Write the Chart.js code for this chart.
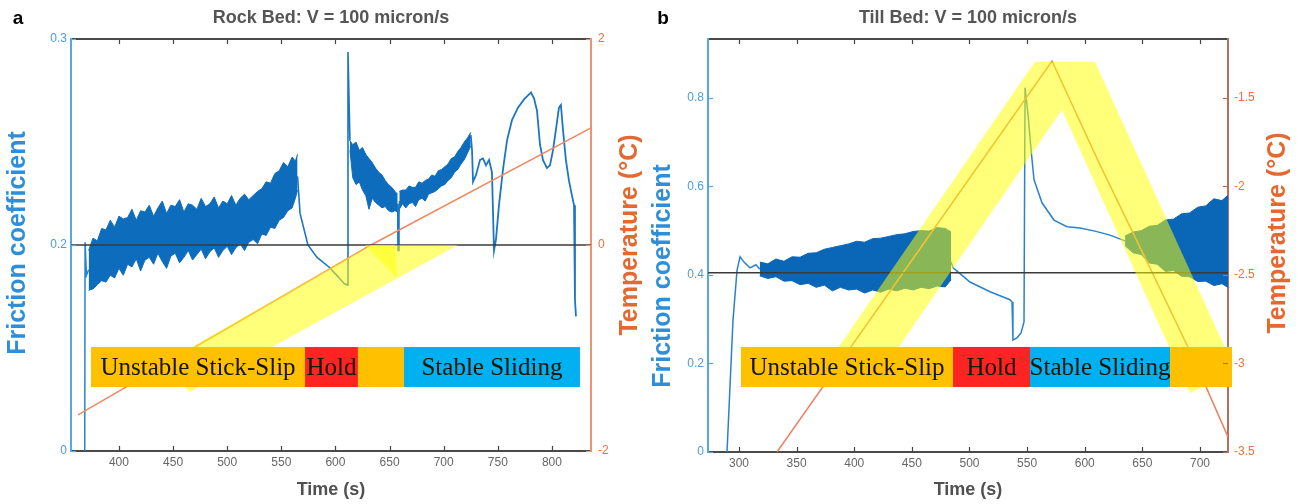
<!DOCTYPE html>
<html><head><meta charset="utf-8">
<script src="https://cdn.jsdelivr.net/npm/chart.js@4.4.1/dist/chart.umd.min.js"></script>
<style>
html,body{margin:0;padding:0;background:#fff;overflow:hidden}
#wrap{position:relative;width:1301px;height:504px;background:#fff}
#ca{position:absolute;left:0;top:0}
#cb{position:absolute;left:650px;top:0}
</style></head><body>
<div id="wrap"><canvas id="ca" width="650" height="504"></canvas><canvas id="cb" width="651" height="504"></canvas></div>
<script>
// ---------------- Panel a : Rock bed ----------------
const rockTitle = 'Rock Bed: V = 100 micron/s';
const rockTimeRange = [355.7, 836.1];
const rockFrictionRange = [0, 0.3];
const rockTempRange = [-2, 2];
const rockXTicks = [400, 450, 500, 550, 600, 650, 700, 750, 800];
const rockFrictionTickLabels = ['0', '0.2', '0.3'];
const rockTempTicks = [-2, 0, 2];

const rockTempTime = [362.2, 632.8, 836.1];
const rockTemp = [-1.65, 0, 1.136];
const rockFreezeTime = [355.7, 836.1];
const rockFreeze = [0, 0];

const rockLine1Time = [368.4, 368.7, 370, 372];
const rockLine1F = [0, 0.152, 0.128, 0.132];

const rockBand1Time = [372,376,380,384,388,392,396,400,404,408,412,416,420,424,428,432,436,440,444,448,452,456,460,464,468,472,476,480,484,488,492,496,500,504,508,512,516,520,524,528,532,536,540,544,548,552,556,560,563,565];
const rockBand1Upper = [0.146,0.155,0.153,0.162,0.161,0.168,0.163,0.171,0.169,0.170,
  0.176,0.168,0.175,0.174,0.179,0.171,0.177,0.182,0.173,0.179,
  0.178,0.183,0.174,0.180,0.179,0.176,0.184,0.178,0.180,0.185,
  0.177,0.182,0.180,0.186,0.179,0.184,0.187,0.183,0.186,0.189,
  0.191,0.196,0.195,0.202,0.204,0.210,0.207,0.214,0.211,0.216];
const rockBand1Lower = [0.117,0.118,0.121,0.124,0.123,0.128,0.126,0.133,0.128,0.136,
  0.134,0.140,0.131,0.139,0.141,0.136,0.144,0.138,0.133,0.142,
  0.144,0.137,0.141,0.146,0.139,0.143,0.147,0.140,0.145,0.148,
  0.141,0.146,0.149,0.143,0.148,0.151,0.146,0.152,0.154,0.151,
  0.158,0.157,0.163,0.162,0.168,0.170,0.175,0.177,0.184,0.190];

const rockLine2Time = [565, 567.3, 574.6, 583, 594, 602.4, 607.9, 610.7, 611.6, 613.4];
const rockLine2F = [0.200, 0.173, 0.150, 0.141, 0.134, 0.127, 0.122, 0.121, 0.2905, 0.226];

const rockBand2Time = [613.4,616,619,622,625,628,631,634,637,640,643,646,649,652,655,657.5];
const rockBand2Upper = [0.226,0.223,0.225,0.219,0.221,0.216,0.213,0.210,0.206,0.203,0.201,0.197,0.194,0.192,0.189,0.187];
const rockBand2Lower = [0.219,0.199,0.194,0.196,0.190,0.186,0.176,0.184,0.181,0.179,0.177,0.178,0.175,0.174,0.175,0.174];

const rockLine3Time = [657.5, 657.8, 658.7, 659.2];
const rockLine3F = [0.180, 0.146, 0.172, 0.182];

const rockBand3Time = [659,662,665,668,671,674,677,680,683,686,689,692,695,698,701,704,707,710,713,716,719,722,725];
const rockBand3Upper = [0.189,0.190,0.190,0.193,0.192,0.192,0.196,0.195,0.197,0.198,0.201,0.200,0.204,0.205,0.207,0.209,0.213,0.214,0.218,0.221,0.225,0.228,0.232];
const rockBand3Lower = [0.176,0.180,0.177,0.180,0.181,0.178,0.183,0.184,0.182,0.187,0.188,0.189,0.191,0.193,0.194,0.197,0.199,0.203,0.205,0.209,0.212,0.217,0.222];

const rockLine4Time = [725,726.2,727.1,729.9,733.6,736.3,739.1,741.9,744.6,746.5,748.3,751.1,754.8,758.5,763.1,768.6,774.2,777.9,780.6,783.4,786.2,789,791.7,795.4,798.2,801,803.7,806.5,808.3,810.2,812.9,815.7,818.5,820.4,821.3,822.2];
const rockLine4F = [0.230,0.219,0.196,0.201,0.212,0.213,0.208,0.212,0.203,0.146,0.154,0.179,0.205,0.226,0.241,0.250,0.256,0.259,0.261,0.257,0.248,0.223,0.212,0.206,0.208,0.219,0.234,0.250,0.252,0.234,0.212,0.197,0.186,0.179,0.110,0.098];

// highlight shapes (time, temperature)
const rockHighlightBand = [[437.9,-1.165],[632.8,0],[713.2,0],[465.6,-1.427]];
const rockHighlightHead = [[627.3,0],[655,0],[656.9,-0.32]];
// phase boxes (time edges, friction limits)
const rockPhaseEdges = [374.2, 571.9, 620.8, 663.3, 825.9];
const rockPhaseLabels = ['Unstable Stick-Slip', 'Hold', '', 'Stable Sliding'];
const rockPhaseBand = [0.0466, 0.0757];

// ---------------- Panel b : Till bed ----------------
const tillTitle = 'Till Bed: V = 100 micron/s';
const tillTimeRange = [273.1, 724.3];
const tillFrictionRange = [0, 0.933];
const tillTempRange = [-3.5, -1.167];
const tillXTicks = [300, 350, 400, 450, 500, 550, 600, 650, 700];
const tillFrictionTicks = [0, 0.2, 0.4, 0.6, 0.8];
const tillTempTicks = [-3.5, -3, -2.5, -2, -1.5];

const tillTempTime = [333.0, 571.6, 613.2, 656.6, 695.7, 724.3];
const tillTemp = [-3.5, -1.291, -1.878, -2.460, -2.991, -3.415];
const tillRefTime = [273.1, 724.3];
const tillRef = [0.405, 0.405];

const tillLine1Time = [289.6, 294.8, 298.3, 300.9, 304.3, 309.5, 314.7, 318];
const tillLine1F = [0, 0.298, 0.411, 0.441, 0.429, 0.416, 0.423, 0.413];

const tillBand1Time = [318,325,332,339,346,353,360,367,374,381,388,395,402,409,416,423,430,437,444,451,458,465,472,479,484];
const tillBand1Upper = [0.429,0.425,0.436,0.431,0.441,0.440,0.449,0.450,0.458,0.462,0.466,0.470,0.476,0.474,0.482,0.483,0.487,0.491,0.493,0.498,0.500,0.499,0.507,0.505,0.497];
const tillBand1Lower = [0.398,0.392,0.396,0.386,0.387,0.378,0.381,0.372,0.377,0.364,0.372,0.366,0.368,0.359,0.366,0.361,0.368,0.364,0.370,0.366,0.372,0.369,0.375,0.373,0.389];

const tillLine2Time = [484, 485.7, 490.0, 500.4, 517.8, 535.1, 536.9, 537.7, 541.2, 544.7, 547.3, 548.2, 550.8, 553.4, 556.0, 562.9, 573.3, 584.6, 595.9, 608.9, 621.9, 635];
const tillLine2F = [0.430, 0.416, 0.407, 0.384, 0.362, 0.344, 0.339, 0.253, 0.258, 0.269, 0.294, 0.823, 0.762, 0.683, 0.615, 0.563, 0.524, 0.509, 0.506, 0.499, 0.490, 0.477];

const tillBand2Time = [635,642,649,656,663,670,677,684,691,698,705,712,719,724.3];
const tillBand2Upper = [0.488,0.497,0.500,0.510,0.512,0.524,0.526,0.538,0.540,0.553,0.556,0.572,0.568,0.580];
const tillBand2Lower = [0.466,0.450,0.446,0.427,0.424,0.408,0.410,0.397,0.396,0.385,0.386,0.376,0.380,0.372];

const tillHighlightUp = [[556.8,-1.296],[608.9,-1.296],[418.9,-3.093],[366.8,-3.093]];
const tillHighlightDown = [[561.2,-1.296],[608.9,-1.296],[731.2,-3.048],[691.3,-3.167]];
const tillPhaseEdges = [301.7, 485.7, 552.5, 674.0, 727.8];
const tillPhaseLabels = ['Unstable Stick-Slip', 'Hold', 'Stable Sliding', ''];
const tillPhaseBand = [0.1469, 0.2373];

// ---------------- drawing ----------------
Chart.defaults.font.family = '"Liberation Sans", Arial, Helvetica, sans-serif';
const PHASE_COLORS = {'Unstable Stick-Slip':'#ffc000','Hold':'#ff2424','Stable Sliding':'#00b0f0','':'#ffc000'};

const pts = (ts, vs) => ts.map((t, i) => ({x: t, y: vs[i]}));
function lineDs(ts, vs, color, w, axis) {
  return {data: pts(ts, vs), borderColor: color, borderWidth: w, pointRadius: 0, fill: false, tension: 0, yAxisID: axis || 'y'};
}
function bandDs(ts, up, lo, color) {
  return [
    {data: pts(ts, up), borderColor: color, borderWidth: 1, pointRadius: 0, fill: false, tension: 0, yAxisID: 'y'},
    {data: pts(ts, lo), borderColor: color, borderWidth: 1, pointRadius: 0, fill: '-1', backgroundColor: color, tension: 0, yAxisID: 'y'}
  ];
}

function decorPlugin(p) {
  return {
    id: 'decor',
    afterDatasetsDraw(chart) {
      const {ctx, chartArea: a, scales} = chart;
      const x = scales.x, y = scales.y, y1 = scales.y1;
      ctx.save();
      ctx.beginPath();
      ctx.rect(a.left + 1, a.top + 1, a.right - a.left - 2, a.bottom - a.top - 2);
      ctx.clip();
      p.highlights.forEach(group => {
        ctx.beginPath();
        group.forEach(poly => {
          poly.forEach(([t, T], i) => {
            const px = x.getPixelForValue(t), py = y1.getPixelForValue(T);
            if (i) ctx.lineTo(px, py); else ctx.moveTo(px, py);
          });
          ctx.closePath();
        });
        ctx.fillStyle = 'rgba(255,255,0,0.52)';
        ctx.fill('nonzero');
      });
      ctx.restore();
      // phase boxes
      ctx.save();
      const yTop = y.getPixelForValue(p.phaseBand[1]);
      const yBot = y.getPixelForValue(p.phaseBand[0]);
      ctx.font = '25px "Liberation Serif", "Times New Roman", serif';
      ctx.textAlign = 'center';
      ctx.textBaseline = 'middle';
      for (let i = 0; i < p.phaseLabels.length; i++) {
        const x0 = x.getPixelForValue(p.phaseEdges[i]);
        const x1 = x.getPixelForValue(p.phaseEdges[i + 1]);
        ctx.fillStyle = PHASE_COLORS[p.phaseLabels[i]];
        ctx.fillRect(x0, yTop, x1 - x0, yBot - yTop);
        if (p.phaseLabels[i]) {
          ctx.fillStyle = '#141400';
          ctx.fillText(p.phaseLabels[i], (x0 + x1) / 2, (yTop + yBot) / 2 + 1);
        }
      }
      ctx.restore();
    },
    afterDraw(chart) {
      const {ctx, chartArea: a, scales} = chart;
      const x = scales.x, y = scales.y, y1 = scales.y1;
      ctx.save();
      ctx.lineWidth = 1.2;
      ctx.strokeStyle = '#444';
      x.ticks.forEach(t => {
        const px = Math.round(x.getPixelForValue(t.value)) + 0.5;
        ctx.beginPath();
        ctx.moveTo(px, a.bottom); ctx.lineTo(px, a.bottom - 5);
        ctx.moveTo(px, a.top); ctx.lineTo(px, a.top + 5);
        ctx.stroke();
      });
      ctx.strokeStyle = p.leftColor;
      y.ticks.forEach(t => {
        const py = Math.round(y.getPixelForValue(t.value)) + 0.5;
        ctx.beginPath(); ctx.moveTo(a.left, py); ctx.lineTo(a.left + 5, py); ctx.stroke();
      });
      ctx.strokeStyle = p.rightColor;
      y1.ticks.forEach(t => {
        const py = Math.round(y1.getPixelForValue(t.value)) + 0.5;
        ctx.beginPath(); ctx.moveTo(a.right, py); ctx.lineTo(a.right - 5, py); ctx.stroke();
      });
      // titles
      ctx.textAlign = 'center';
      ctx.textBaseline = 'middle';
      ctx.fillStyle = '#555';
      ctx.font = 'bold 18px "Liberation Sans", Arial, sans-serif';
      ctx.fillText(p.title, (a.left + a.right) / 2, 18);
      ctx.fillStyle = '#000';
      ctx.font = 'bold 19px "Liberation Sans", Arial, sans-serif';
      ctx.fillText(p.letter, p.letterX, 19);
      // axis titles (both read bottom-to-top)
      const vText = (txt, cx, cy, color) => {
        ctx.save();
        ctx.translate(cx, cy);
        ctx.rotate(-Math.PI / 2);
        ctx.fillStyle = color;
        ctx.font = 'bold 25px "Liberation Sans", Arial, sans-serif';
        ctx.fillText(txt, 0, 0);
        ctx.restore();
      };
      vText('Friction coefficient', p.yTitle[0], p.yTitle[1], '#2d8fda');
      vText('Temperature (\u00B0C)', p.y1Title[0], p.y1Title[1], '#e4682f');
      ctx.restore();
    }
  };
}

function makePanel(id, p) {
  const tickSetter = vals => s => { s.ticks = vals.map(v => ({value: v})); };
  return new Chart(document.getElementById(id), {
    type: 'line',
    data: {datasets: p.datasets},
    options: {
      responsive: false, animation: false, devicePixelRatio: 1,
      layout: {padding: {top: 39, left: 0, right: 0, bottom: 0}},
      plugins: {legend: {display: false}, tooltip: {enabled: false}, title: {display: false}},
      scales: {
        x: {
          type: 'linear', position: 'bottom', min: p.xRange[0], max: p.xRange[1],
          afterBuildTicks: tickSetter(p.xTicks), afterFit: s => { s.height = p.xHeight; },
          grid: {display: false, drawTicks: false},
          border: {display: true, color: '#4a4a4a', width: 2},
          ticks: {color: '#666', font: {size: 12}, padding: 4, maxRotation: 0, autoSkip: false, callback: v => String(v)},
          title: {display: true, text: 'Time (s)', color: '#505050', font: {size: 18, weight: 'bold'}, padding: {top: 0, bottom: 3}}
        },
        x2: {
          type: 'linear', position: 'top', min: p.xRange[0], max: p.xRange[1],
          afterFit: s => { s.height = 0; },
          grid: {display: false, drawTicks: false},
          border: {display: true, color: '#4a4a4a', width: 2},
          ticks: {display: false}
        },
        y: {
          type: 'linear', position: 'left', min: p.yRange[0], max: p.yRange[1],
          afterBuildTicks: tickSetter(p.yTickValues), afterFit: s => { s.width = p.leftW; },
          grid: {display: false, drawTicks: false},
          border: {display: true, color: p.leftColor, width: 2},
          ticks: {color: '#4a9de0', font: {size: 12}, padding: 4, callback: (v, i) => p.yTickLabels[i]}
        },
        y1: {
          type: 'linear', position: 'right', min: p.y1Range[0], max: p.y1Range[1],
          afterBuildTicks: tickSetter(p.y1Ticks), afterFit: s => { s.width = p.rightW; },
          grid: {display: false, drawTicks: false},
          border: {display: true, color: p.rightColor, width: 2},
          ticks: {color: '#e8743b', font: {size: 12}, padding: p.rightPad, callback: v => String(v)}
        }
      }
    },
    plugins: [decorPlugin(p)]
  });
}

const ROCK_BLUE = '#0d6cbc', TILL_BLUE = '#0a66b6';
makePanel('ca', {
  title: rockTitle, letter: 'a', letterX: 18,
  xRange: rockTimeRange, yRange: rockFrictionRange, y1Range: rockTempRange,
  xTicks: rockXTicks,
  yTickValues: rockFrictionTickLabels.map((_, i) => rockFrictionRange[0] + i * (rockFrictionRange[1] - rockFrictionRange[0]) / (rockFrictionTickLabels.length - 1)),
  yTickLabels: rockFrictionTickLabels,
  y1Ticks: rockTempTicks,
  leftW: 71, rightW: 59, xHeight: 53, rightPad: 7,
  leftColor: '#58a6e4', rightColor: '#ec9372',
  yTitle: [18, 243], y1Title: [630, 235],
  highlights: [[rockHighlightBand], [rockHighlightHead]],
  phaseEdges: rockPhaseEdges, phaseLabels: rockPhaseLabels, phaseBand: rockPhaseBand,
  datasets: [
    lineDs(rockFreezeTime, rockFreeze, '#3a3a3a', 1.5, 'y1'),
    lineDs(rockTempTime, rockTemp, '#ee8a62', 1.5, 'y1'),
    lineDs(rockLine1Time, rockLine1F, '#2a82cc', 1.5),
    lineDs(rockLine2Time, rockLine2F, '#1d76c4', 1.6),
    lineDs(rockLine3Time, rockLine3F, '#1d76c4', 1.6),
    lineDs(rockLine4Time, rockLine4F, '#1d76c4', 1.8),
    ...bandDs(rockBand1Time, rockBand1Upper, rockBand1Lower, ROCK_BLUE),
    ...bandDs(rockBand2Time, rockBand2Upper, rockBand2Lower, ROCK_BLUE),
    ...bandDs(rockBand3Time, rockBand3Upper, rockBand3Lower, ROCK_BLUE)
  ]
});

makePanel('cb', {
  title: tillTitle, letter: 'b', letterX: 13,
  xRange: tillTimeRange, yRange: tillFrictionRange, y1Range: tillTempRange,
  xTicks: tillXTicks,
  yTickValues: tillFrictionTicks,
  yTickLabels: tillFrictionTicks.map(String),
  y1Ticks: tillTempTicks,
  leftW: 58, rightW: 73, xHeight: 52, rightPad: 6,
  leftColor: '#58a6e4', rightColor: '#b4705c',
  yTitle: [13, 276], y1Title: [628, 233],
  highlights: [[tillHighlightUp, tillHighlightDown]],
  phaseEdges: tillPhaseEdges, phaseLabels: tillPhaseLabels, phaseBand: tillPhaseBand,
  datasets: [
    lineDs(tillRefTime, tillRef, '#3a3a3a', 1.5, 'y'),
    lineDs(tillTempTime, tillTemp, '#ea8064', 1.5, 'y1'),
    lineDs(tillLine1Time, tillLine1F, '#2a82cc', 1.5),
    lineDs(tillLine2Time, tillLine2F, '#2a82cc', 1.5),
    ...bandDs(tillBand1Time, tillBand1Upper, tillBand1Lower, TILL_BLUE),
    ...bandDs(tillBand2Time, tillBand2Upper, tillBand2Lower, TILL_BLUE)
  ]
});
</script>
</body></html>
